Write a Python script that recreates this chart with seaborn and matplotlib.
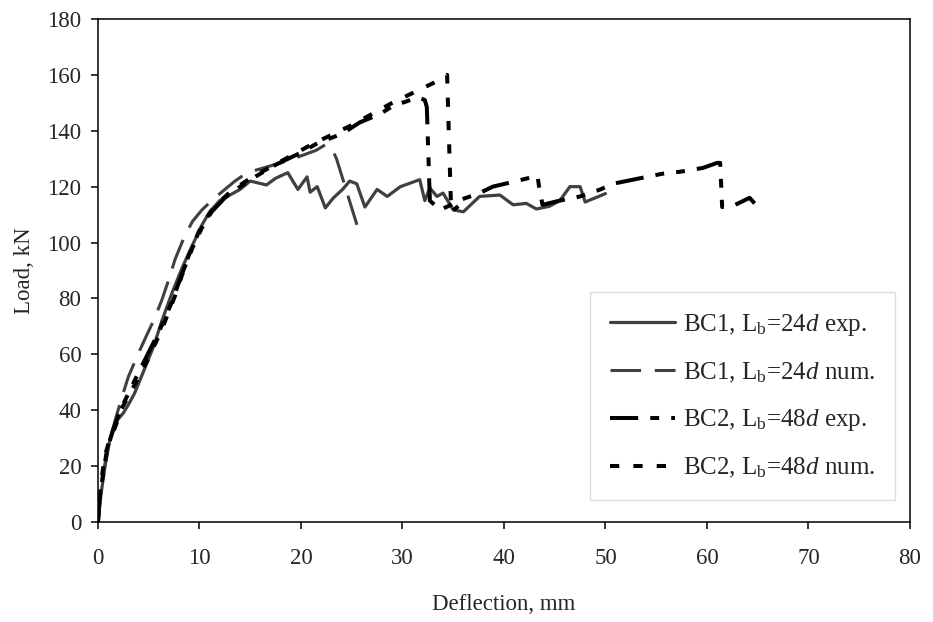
import numpy as np
import pandas as pd
import matplotlib
matplotlib.use("Agg")
import matplotlib.pyplot as plt
import seaborn as sns

# ------------------------------------------------------------
# Data (deflection mm, load kN)
# ------------------------------------------------------------
bc1_exp_d = [0, 0.3, 0.7, 1.2, 1.8, 2.5, 3.0, 3.6, 4.5, 5.5, 6.3, 7.3, 8.3, 9.3,
             10.2, 11, 12, 13, 14, 15, 16.6, 17.5, 18.7, 19.7, 20.6, 20.9, 21.6,
             22.4, 23.2, 24.1, 24.8, 25.5, 26.3, 27.5, 28.5, 29.8, 31.7, 32.2,
             32.7, 33.4, 34.0, 35.0, 36.0, 37.6, 39.6, 40.9, 42.2, 43.2, 44.5,
             45.5, 46.5, 47.5, 48.0, 49.0, 50.0]
bc1_exp_L = [0, 10, 20, 30, 36, 39, 42, 46, 54, 63, 72, 82, 91, 99,
             106, 111, 115, 117, 119, 122, 120.6, 123, 125, 119, 123.5, 118, 120,
             112.4, 116, 119, 122, 121, 112.7, 119, 116.5, 120, 122.5, 115,
             119.5, 116.5, 117.7, 111.7, 111, 116.5, 117, 113.5, 114, 112, 113,
             115, 120, 120, 114.5, 116, 117.5]

bc1_num_d = [0, 0.2, 0.4, 1.0, 1.7, 2.3, 3.0, 4.0, 4.9, 5.6, 6.3, 7.0, 7.6, 8.5,
             9.3, 10.2, 11.2, 12.5, 13.5, 14.7, 16.3, 18, 20, 21.5, 22.4, 23.0,
             23.5, 25.8]
bc1_num_L = [0, 8, 15, 27, 36.5, 44, 52, 60.5, 67.6, 73, 79.5, 87, 94, 102,
             107.5, 111.5, 115, 119, 122, 125, 126.7, 128.5, 131, 133, 135, 134,
             130, 103]

bc2_exp_d = [0, 0.2, 0.5, 0.9, 1.5, 2.2, 3.0, 3.8, 4.9, 6.0, 7.2, 8.3, 9.3, 10.2,
             11.2, 12.5, 14.0, 15.7, 17.6, 19.9, 21.6, 24.1, 25.8, 27.8, 29.1,
             30.4, 31.5, 32.2, 32.4, 32.7, 33.7, 34.5, 35.5, 37.6, 38.9, 40.9,
             42.9, 43.3, 43.5, 43.8, 45.5, 47.5, 49.5, 50.7, 53.4, 56.0, 57.3,
             59.6, 61.0, 61.3, 61.5, 62.5, 64.2, 64.7]
bc2_exp_L = [0, 10, 17, 26, 33, 40, 46, 52, 60, 68, 78, 89, 98, 105,
             111, 116, 120, 124, 128, 132, 135.5, 139, 143, 146, 149,
             150.5, 152, 151, 148.5, 115, 111.7, 113, 115, 117.7, 120, 121.7,
             123.5, 124, 119, 113.5, 115, 116.5, 119, 121, 123, 124.9, 125.3,
             126.7, 128.5, 128.5, 112.7, 113, 116, 114]

bc2_num_d = [0, 0.3, 0.7, 1.2, 1.7, 2.4, 3.6, 4.9, 6.3, 7.6, 8.9, 10.2, 11.5,
             13.0, 15.0, 17.0, 19.0, 21.0, 23.0, 25.0, 27.0, 29.0, 31.0, 33.0,
             34.4, 34.6, 34.8, 35.5]
bc2_num_L = [0, 14, 24, 30, 34, 41, 49, 58, 69, 81, 95, 106, 113,
             118, 123, 127, 131, 135, 138.5, 142, 146, 150, 153.5, 157,
             160, 135, 111, 113]

labels = [r"BC1, L$_{\mathrm{b}}$=24$\mathit{d}$ exp.",
          r"BC1, L$_{\mathrm{b}}$=24$\mathit{d}$ num.",
          r"BC2, L$_{\mathrm{b}}$=48$\mathit{d}$ exp.",
          r"BC2, L$_{\mathrm{b}}$=48$\mathit{d}$ num."]

x_ticks = [0, 10, 20, 30, 40, 50, 60, 70, 80]
y_ticks = [0, 20, 40, 60, 80, 100, 120, 140, 160, 180]

# ------------------------------------------------------------
# Style
# ------------------------------------------------------------
sns.set_style("ticks")
plt.rcParams["font.family"] = ["Liberation Serif", "DejaVu Serif"]
plt.rcParams["mathtext.fontset"] = "custom"
plt.rcParams["mathtext.rm"] = "Liberation Serif"
plt.rcParams["mathtext.it"] = "Liberation Serif:italic"

fig = plt.figure(figsize=(9.33, 6.22), dpi=100)
ax = fig.add_axes([0.105, 0.1608, 0.8703, 0.8087])

series = [
    (bc1_exp_d, bc1_exp_L, "#404040", 2.3, "-"),
    (bc1_num_d, bc1_num_L, "#404040", 2.2, (0, (10, 4.5))),
    (bc2_exp_d, bc2_exp_L, "black", 2.9, (0, (7, 3, 2.2, 3, 2.2, 3))),
    (bc2_num_d, bc2_num_L, "black", 2.9, (0, (2.3, 3.5))),
]

for (d, L, col, lw, ls), lab in zip(series, labels):
    df = pd.DataFrame({"d": d, "L": L})
    sns.lineplot(data=df, x="d", y="L", ax=ax, color=col, lw=lw,
                 linestyle=ls, label=lab, estimator=None, sort=False)

ax.set_xlim(0, 80)
ax.set_ylim(0, 180)
ax.set_xticks(x_ticks)
ax.set_yticks(y_ticks)
ax.tick_params(axis="both", direction="out", length=5, width=1.1,
               labelsize=16.5, color="black")
ax.tick_params(axis="x", pad=14)
ax.tick_params(axis="y", pad=7)
for s in ax.spines.values():
    s.set_linewidth(1.1)
    s.set_color("black")

ax.set_xlabel("Deflection, mm", fontsize=16.5, labelpad=18)
ax.set_ylabel("Load, kN", fontsize=16.5, labelpad=9)

leg = ax.legend(loc="lower right", bbox_to_anchor=(0.9815, 0.0437),
                fontsize=18, frameon=True, fancybox=False,
                handlelength=2.6, handletextpad=0.3, labelspacing=0.9,
                borderpad=0.8, borderaxespad=0)
leg.get_frame().set_edgecolor("#d4d4d4")
leg.get_frame().set_linewidth(1.0)

fig.savefig("out.png", dpi=100)
